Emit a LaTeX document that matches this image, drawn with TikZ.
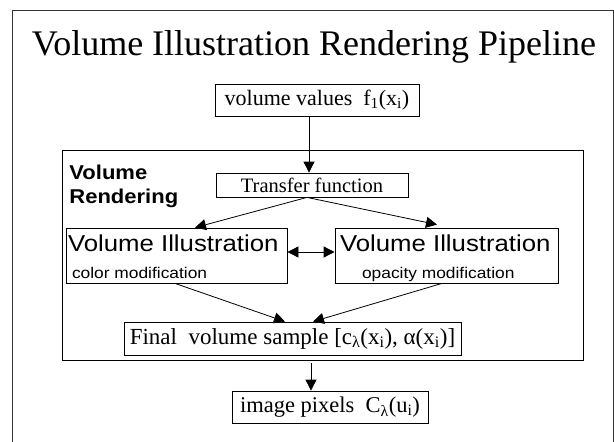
\documentclass[tikz,border=0pt]{standalone}
\usepackage{fontspec}
\setmainfont{Liberation Serif}
\setsansfont{Liberation Sans}
\usetikzlibrary{arrows.meta, calc, positioning}

\begin{document}
\begin{tikzpicture}[x=1pt, y=-1pt, line width=.8pt,
		>={Triangle[length=11pt, width=11pt]},
		box/.style={draw, inner sep=0pt, font=\fontsize{#1}{#1}\selectfont},
		vilabel/.style={inner sep=0pt, anchor=base west, xscale=1.12, transform shape, font=\sffamily\fontsize{#1}{#1}\selectfont},
		renlabel/.style={inner sep=0pt, anchor=base west, xscale=1.1, transform shape, font=\sffamily\bfseries\fontsize{20}{20}\selectfont}]
		\useasboundingbox (0,0) rectangle (614,442);
		% slide frame, open at the bottom
		\draw[line width=1pt, black!80] (12,442) -- (12,10) -- (613,10) -- (613,442);
		\node[inner sep=0pt, anchor=base, font=\fontsize{36}{36}\selectfont] (title) at (314,55) {Volume Illustration Rendering Pipeline};
		% volume rendering block
		\draw (62,150) rectangle (583,360);
		\node[renlabel] (volren) at (69,179) {Volume};
		\node[renlabel] (volren2) at (69,203) {Rendering};
		\node[box=22, minimum width=204pt, minimum height=32pt] (vals) at (317,100) {volume values\ \ f\textsubscript{1}(x\textsubscript{i})};
		\node[box=20.5, minimum width=192pt, minimum height=24pt] (tf) at (312,185) {Transfer function};
		\node[box=10, minimum width=221pt, minimum height=55pt] (lvi) at (176.5,255.5) {};
		\node[box=10, minimum width=223pt, minimum height=55pt] (rvi) at (446.5,255.5) {};
		\node[vilabel=23] (lvitop) at ([shift={(2pt,-24pt)}]lvi.north west) {Volume Illustration};
		\node[vilabel=15.5] (lvibot) at ([shift={(6pt,-51pt)}]lvi.north west) {color modification};
		\node[vilabel=23] (rvitop) at ([shift={(5pt,-24pt)}]rvi.north west) {Volume Illustration};
		\node[vilabel=15.5] (rvibot) at ([shift={(27pt,-51pt)}]rvi.north west) {opacity modification};
		\node[box=23, minimum width=337pt, minimum height=33pt] (final) at (292.5,338.5) {Final\ \ volume sample [c\textsubscript{λ}(x\textsubscript{i}), α(x\textsubscript{i})]};
		\node[box=22.5, minimum width=196pt, minimum height=32pt] (pix) at (330,407) {image pixels\ \ C\textsubscript{λ}(u\textsubscript{i})};
		\coordinate (out) at (311,363);
		% connectors
		\draw[->] ([xshift=-8pt]vals.south) -- ([xshift=-3pt]tf.north);
		\draw[->] ([xshift=-5pt]tf.south) -- ([xshift=18.5pt]lvi.north);
		\draw[->] ([xshift=-5pt]tf.south) -- ([shift={(-9.5pt,3pt)}]rvi.north);
		\draw[<->] ([yshift=3.5pt]lvi.east) -- ([yshift=3.5pt]rvi.west);
		\draw[->] ([xshift=-1.5pt]lvi.south) -- ([xshift=-7.5pt]final.north);
		\draw[->] ([xshift=-4.5pt]rvi.south) -- ([xshift=20.5pt]final.north);
		\draw[->] (out) -- (out |- pix.north);
	\end{tikzpicture}
\end{document}
